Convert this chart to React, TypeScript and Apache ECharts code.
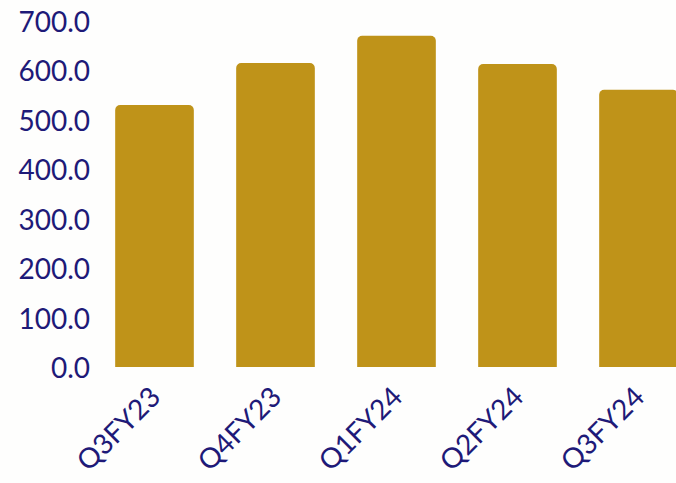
import React, { useEffect, useRef } from "react";
import * as echarts from "echarts";

const categories = ["Q3FY23", "Q4FY23", "Q1FY24", "Q2FY24", "Q3FY24"];
const values = [530, 615, 670, 613, 561];
const yMin = 0;
const yMax = 700;
const yStep = 100;

const BAR = "#BF9319";
const TEXT = "#1E1A78";
const FONT = "Lato, 'Noto Sans', sans-serif";

export default function App() {
  const ref = useRef<HTMLDivElement>(null);
  useEffect(() => {
    document.body.style.margin = "0";
    document.body.style.background = "#FEFEFD";
    const chart = echarts.init(ref.current!, null, { renderer: "svg" });
    chart.setOption({
      animation: false,
      backgroundColor: "#FEFEFD",
      grid: {
        left: 94,
        top: 21,
        width: 605,
        height: 346,
        containLabel: false,
        outerBoundsMode: "none",
      },
      xAxis: {
        type: "category",
        data: categories,
        axisLine: { show: false },
        axisTick: { show: false },
        axisLabel: {
          rotate: 45,
          color: TEXT,
          fontFamily: FONT,
          fontSize: 28,
          margin: 24,
          interval: 0,
        },
      },
      yAxis: {
        type: "value",
        min: yMin,
        max: yMax,
        interval: yStep,
        axisLine: { show: false },
        axisTick: { show: false },
        splitLine: { show: false },
        axisLabel: {
          color: TEXT,
          fontFamily: FONT,
          fontSize: 28,
          margin: 4,
          formatter: (v: number) => v.toFixed(1),
        },
      },
      series: [
        {
          type: "bar",
          data: values,
          barWidth: "65%",
          itemStyle: { color: BAR, borderRadius: [5, 5, 0, 0] },
        },
      ],
    });
    return () => chart.dispose();
  }, []);
  return (
    <div style={{ width: 676, height: 483, overflow: "hidden" }}>
      <div ref={ref} style={{ width: 720, height: 483 }} />
    </div>
  );
}
